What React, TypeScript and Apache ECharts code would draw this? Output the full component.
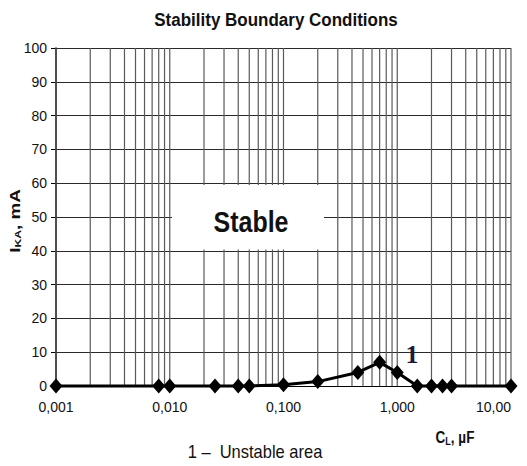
import React, { useEffect, useRef } from "react";
import * as echarts from "echarts";

const capacitanceUF = [0.001, 0.008, 0.01, 0.025, 0.04, 0.05, 0.1, 0.2, 0.45, 0.7, 1.0, 1.5, 2.0, 2.5, 3.0, 10];
const currentMA = [0, 0, 0, 0, 0, 0, 0.4, 1.3, 4, 7, 4, 0, 0, 0, 0, 0];

const xTickLabels = ["0,001", "0,010", "0,100", "1,000", "10,00"];
const decadeStarts = [0.001, 0.01, 0.1, 1];
const gridMultipliers = [1, 2, 3, 4, 5, 6, 7, 8, 9];
const lastGridValue = 10;
const yMin = 0;
const yMax = 100;

const titleText = "Stability Boundary Conditions";
const regionLabel = "Stable";
const curveLabel = "1";
const footnote = "1 –  Unstable area";

export default function App() {
  const ref = useRef<HTMLDivElement>(null);

  useEffect(() => {
    if (!ref.current) return;
    const chart = echarts.init(ref.current, undefined, { renderer: "svg" });

    const gridValues = decadeStarts
      .flatMap((d) => gridMultipliers.map((m) => +(m * d).toPrecision(6)))
      .concat([lastGridValue]);

    const font = "'Liberation Sans', Arial, sans-serif";

    chart.setOption({
      animation: false,
      backgroundColor: "#fff",
      grid: { left: 56, right: 16, top: 48, bottom: 80, containLabel: false },
      xAxis: {
        type: "log",
        logBase: 10,
        min: 0.001,
        max: 10,
        axisLine: { show: true, lineStyle: { color: "#000", width: 1 } },
        axisTick: { show: false },
        splitLine: { show: false },
        axisLabel: {
          color: "#111",
          fontSize: 14,
          fontFamily: font,
          margin: 14,
          alignMaxLabel: "right",
          formatter: (v: number) => xTickLabels[Math.round(Math.log10(v)) + 3] ?? "",
        },
      },
      yAxis: {
        type: "value",
        min: yMin,
        max: yMax,
        interval: 10,
        axisLine: { show: true, lineStyle: { color: "#000", width: 1.5 } },
        axisTick: { show: true, length: 5, lineStyle: { color: "#000" } },
        splitLine: { show: true, lineStyle: { color: "#2a2a2a", width: 1 } },
        axisLabel: { color: "#111", fontSize: 14, fontFamily: font, margin: 9 },
      },
      series: [
        {
          type: "custom",
          silent: true,
          z: 1,
          clip: false,
          data: gridValues.map((v) => [v, yMin]),
          renderItem: (params: any, api: any) => {
            const x = api.value(0);
            const p0 = api.coord([x, yMin]);
            const p1 = api.coord([x, yMax]);
            return {
              type: "line",
              shape: { x1: p0[0], y1: p0[1], x2: p1[0], y2: p1[1] },
              style: { stroke: "#5a5a5a", lineWidth: 1.2 },
            };
          },
        },
        {
          type: "line",
          data: capacitanceUF.map((x, i) => [x, currentMA[i]]),
          symbol: "diamond",
          symbolSize: [13, 15],
          clip: false,
          z: 5,
          itemStyle: { color: "#000" },
          lineStyle: { color: "#000", width: 3 },
        },
      ],
      graphic: [
        {
          type: "text",
          x: 276,
          y: 20,
          scaleY: 1.12,
          z: 100,
          style: {
            text: titleText,
            fontSize: 17,
            fontWeight: "bold",
            fontFamily: font,
            fill: "#111",
            textAlign: "center",
            textVerticalAlign: "middle",
          },
        },
        {
          type: "rect",
          z: 100,
          shape: { x: 172, y: 185, width: 152, height: 64.5 },
          style: { fill: "#fff" },
        },
        {
          type: "text",
          x: 251,
          y: 222,
          scaleY: 1.15,
          z: 101,
          style: {
            text: regionLabel,
            fontSize: 25,
            fontWeight: "bold",
            fontFamily: font,
            fill: "#111",
            textAlign: "center",
            textVerticalAlign: "middle",
          },
        },
        {
          type: "text",
          x: 412,
          y: 354,
          z: 101,
          style: {
            text: curveLabel,
            fontSize: 26,
            fontWeight: "bold",
            fontFamily: "'Liberation Serif', 'Times New Roman', serif",
            fill: "#1c1c3a",
            textAlign: "center",
            textVerticalAlign: "middle",
          },
        },
        {
          type: "text",
          x: 15,
          y: 221,
          rotation: Math.PI / 2,
          scaleX: 1.35,
          z: 101,
          style: {
            text: "{a|I}{b|KA}{a|, mA}",
            textAlign: "center",
            textVerticalAlign: "middle",
            fill: "#111",
            rich: {
              a: { fontSize: 14, fontWeight: "bold", fontFamily: font, fill: "#111" },
              b: { fontSize: 9, fontWeight: "bold", fontFamily: font, fill: "#111", padding: [6, 0, 0, 0] },
            },
          },
        },
        {
          type: "text",
          x: 455,
          y: 438,
          scaleY: 1.2,
          z: 101,
          style: {
            text: "{a|C}{b|L}{a|, µF}",
            textAlign: "center",
            textVerticalAlign: "middle",
            fill: "#111",
            rich: {
              a: { fontSize: 13.5, fontWeight: "bold", fontFamily: font, fill: "#111" },
              b: { fontSize: 9, fontWeight: "bold", fontFamily: font, fill: "#111", padding: [6, 0, 0, 0] },
            },
          },
        },
        {
          type: "text",
          x: 255,
          y: 452,
          scaleY: 1.15,
          z: 101,
          style: {
            text: footnote,
            fontSize: 16.5,
            fontFamily: font,
            fill: "#111",
            textAlign: "center",
            textVerticalAlign: "middle",
          },
        },
      ],
    });

    return () => chart.dispose();
  }, []);

  return (
    <div
      ref={ref}
      style={{ position: "fixed", left: 0, top: 0, width: 527, height: 466, background: "#fff" }}
    />
  );
}
